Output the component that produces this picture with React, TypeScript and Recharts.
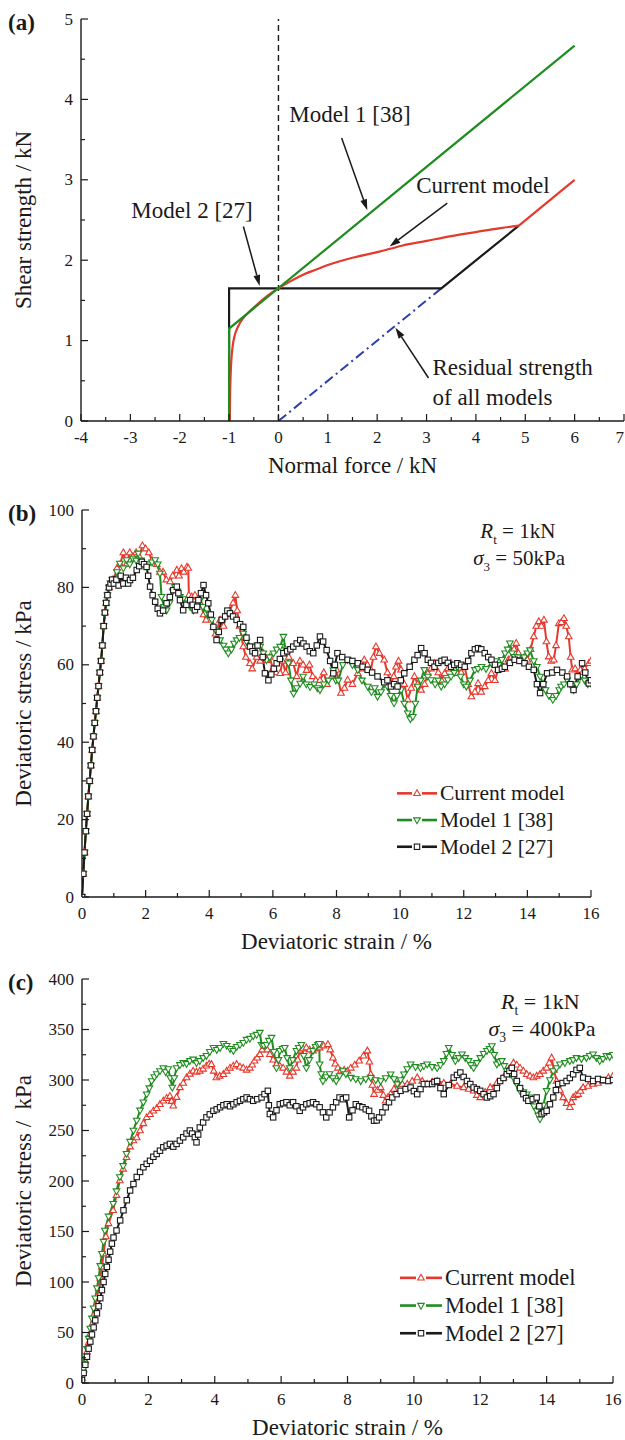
import React from 'react';
import { LineChart, Line, XAxis, YAxis, ReferenceLine, ReferenceDot, Legend, Label } from 'recharts';

const FONT = "'Liberation Serif', 'Times New Roman', Times, serif";
const INK = '#1a1a1a';
const RED = '#e5392d';
const GREEN = '#1f8c1f';
const BLUE = '#2b3fae';

// ---------- (a) shear strength vs normal force ----------
const A_X_TICKS = [-4, -3.5, -3, -2.5, -2, -1.5, -1, -0.5, 0, 0.5, 1, 1.5, 2, 2.5, 3, 3.5, 4, 4.5, 5, 5.5, 6, 6.5, 7];
const A_Y_TICKS = [0, 0.5, 1, 1.5, 2, 2.5, 3, 3.5, 4, 4.5, 5];

const A_MODEL1: [number, number][] = [[-1, 0], [-1, 1.15], [6, 4.67]];
const A_MODEL2: [number, number][] = [[-1, 0], [-1, 1.65], [3.3, 1.65], [4.87, 2.43]];
const A_RESIDUAL: [number, number][] = [[0, 0], [3.3, 1.65]];
const A_CURRENT: [number, number][] = [
  [-0.985, 0], [-0.98, 0.3], [-0.97, 0.55], [-0.955, 0.75], [-0.93, 0.92], [-0.9, 1.03], [-0.85, 1.13],
  [-0.78, 1.22], [-0.7, 1.29], [-0.59, 1.36], [-0.45, 1.44], [-0.3, 1.52], [-0.15, 1.59], [0, 1.65],
  [0.25, 1.74], [0.5, 1.82], [0.75, 1.88], [1, 1.94], [1.5, 2.03], [2, 2.1], [2.5, 2.18], [3, 2.24],
  [3.5, 2.3], [4, 2.35], [4.5, 2.4], [4.87, 2.43],
];
const A_CURRENT_TAIL: [number, number][] = [[4.87, 2.43], [6, 3.0]];

const A_NOTES = [
  { text: 'Model 1 [38]', x: 0.22, y: 3.72 },
  { text: 'Current model', x: 2.79, y: 2.83 },
  { text: 'Model 2 [27]', x: -2.98, y: 2.53 },
  { text: 'Residual strength', x: 3.12, y: 0.567 },
  { text: 'of all models', x: 3.12, y: 0.193 },
];
const A_ARROWS: [number, number, number, number][] = [
  [1.28, 3.52, 1.8, 2.62],
  [3.42, 2.71, 2.25, 2.17],
  [-0.71, 2.42, -0.38, 1.68],
  [3.04, 0.535, 2.37, 1.16],
];

// ---------- (b) sigma3 = 50 kPa ----------
const B_X_TICKS = [0, 1, 2, 3, 4, 5, 6, 7, 8, 9, 10, 11, 12, 13, 14, 15, 16];
const B_Y_TICKS = [0, 10, 20, 30, 40, 50, 60, 70, 80, 90, 100];

const B_RISE: [number, number][] = [
  [0, 0], [0.04, 6], [0.08, 11.5], [0.12, 17], [0.16, 21.5], [0.2, 26], [0.24, 30], [0.28, 34], [0.32, 38],
  [0.36, 41.5], [0.4, 45], [0.44, 48], [0.48, 51.5], [0.52, 54.5], [0.56, 58], [0.6, 61], [0.64, 65],
  [0.68, 70], [0.72, 73.5], [0.76, 76], [0.8, 78], [0.85, 80], [0.9, 81], [0.95, 82],
];
const B_CURRENT: [number, number][] = [
  [1.0, 82], [1.1, 85], [1.2, 86], [1.3, 89], [1.4, 86], [1.5, 89], [1.6, 88], [1.7, 89], [1.8, 88], [1.9, 90.8],
  [2.0, 90], [2.1, 89], [2.2, 87], [2.35, 86], [2.45, 84], [2.55, 84], [2.65, 82], [2.77, 81.5], [2.85, 83],
  [2.98, 84.5], [3.05, 83], [3.13, 84.9], [3.2, 84], [3.3, 85.3], [3.34, 85], [3.36, 78], [3.45, 77.6],
  [3.55, 78], [3.65, 76], [3.75, 75.5], [3.82, 73], [3.9, 71.6], [4.0, 73], [4.13, 69.8], [4.2, 68],
  [4.34, 71.6], [4.45, 70], [4.55, 73], [4.65, 74.1], [4.75, 76], [4.82, 78], [4.88, 74], [4.95, 70],
  [5.07, 64.7], [5.15, 62], [5.28, 60.4], [5.35, 59], [5.49, 62], [5.6, 61], [5.7, 63], [5.8, 61.2],
  [5.9, 62], [6.0, 59], [6.1, 58], [6.23, 57.8], [6.3, 61], [6.4, 58], [6.5, 62], [6.64, 60.4], [6.75, 57],
  [6.85, 61], [6.95, 60], [7.06, 58.6], [7.15, 60], [7.25, 57], [7.35, 56], [7.48, 56], [7.6, 58], [7.7, 55],
  [7.85, 57], [8.0, 58.7], [8.14, 52.7], [8.25, 54], [8.35, 56.1], [8.5, 55], [8.67, 57.8], [8.77, 59],
  [8.87, 61.3], [8.97, 60], [9.08, 58.7], [9.16, 62], [9.24, 64.7], [9.35, 63], [9.5, 61.3], [9.6, 58],
  [9.71, 55.2], [9.8, 57], [9.87, 59.5], [9.95, 61], [10.03, 58.7], [10.13, 55], [10.24, 51], [10.35, 54],
  [10.45, 57], [10.55, 55], [10.66, 53.5], [10.77, 55], [10.87, 57.8], [10.97, 59], [11.08, 60.4], [11.2, 58],
  [11.3, 56], [11.4, 57.8], [11.5, 59], [11.6, 60.4], [11.7, 59], [11.8, 57.8], [11.92, 58], [12.03, 59.5],
  [12.14, 55], [12.24, 51.8], [12.35, 53], [12.45, 55.2], [12.55, 53], [12.66, 54.4], [12.77, 56],
  [12.87, 57.8], [12.98, 56], [13.08, 58.7], [13.2, 60], [13.3, 59], [13.4, 61.3], [13.5, 62], [13.58, 64],
  [13.65, 65.6], [13.72, 63], [13.8, 61.3], [13.9, 62], [14.0, 61.3], [14.1, 64], [14.2, 67.3], [14.28, 70],
  [14.36, 71.2], [14.44, 70], [14.52, 71.6], [14.6, 66], [14.67, 62.1], [14.75, 61], [14.83, 61.3], [14.9, 65],
  [14.99, 70.7], [15.07, 71], [15.15, 72], [15.22, 70], [15.3, 67.3], [15.36, 62], [15.41, 58.7], [15.5, 59],
  [15.6, 57], [15.67, 58.7], [15.8, 59], [15.93, 60.4], [16.0, 61],
];
const B_MODEL1: [number, number][] = [
  [1.0, 82], [1.1, 84], [1.19, 86.2], [1.3, 85], [1.4, 87.1], [1.5, 86], [1.6, 87.5], [1.7, 87], [1.77, 88.8],
  [1.85, 87], [1.95, 86], [2.03, 85.3], [2.1, 86], [2.2, 86.5], [2.3, 87.1], [2.38, 86], [2.45, 83.6],
  [2.5, 77.6], [2.58, 75], [2.66, 74.1], [2.75, 76], [2.85, 79], [2.92, 80.2], [3.0, 79], [3.08, 77.6],
  [3.18, 77], [3.29, 75.9], [3.4, 75], [3.5, 74.1], [3.6, 75.5], [3.71, 76.7], [3.8, 75], [3.9, 73.3],
  [4.0, 73], [4.08, 71.6], [4.2, 69], [4.34, 66.4], [4.45, 65], [4.52, 64], [4.6, 63], [4.7, 64], [4.78, 65.5],
  [4.86, 66.4], [4.95, 67], [5.07, 68.1], [5.17, 66], [5.28, 64.7], [5.4, 63.5], [5.5, 65], [5.6, 64.7],
  [5.7, 63], [5.8, 61.2], [5.9, 62], [6.02, 63], [6.12, 64], [6.23, 64.7], [6.33, 67.3], [6.4, 64],
  [6.49, 60.4], [6.57, 56], [6.65, 52.6], [6.75, 54], [6.86, 55.2], [6.95, 57], [7.05, 55], [7.17, 54.3],
  [7.3, 55], [7.4, 54], [7.48, 53.5], [7.6, 55], [7.75, 56], [7.9, 58.6], [7.98, 56], [8.06, 56], [8.2, 60],
  [8.35, 61.3], [8.5, 60], [8.67, 58.7], [8.8, 56], [8.98, 54.4], [9.1, 53], [9.2, 54], [9.29, 51.8], [9.4, 53],
  [9.5, 55], [9.6, 54.4], [9.7, 52], [9.81, 50.1], [9.9, 52], [10.03, 53.5], [10.13, 50], [10.24, 47.5],
  [10.32, 46], [10.4, 46.6], [10.48, 50], [10.55, 54.4], [10.65, 56], [10.76, 58.7], [10.87, 57], [10.97, 56.1],
  [11.1, 55], [11.2, 56], [11.29, 54.4], [11.4, 55], [11.5, 56.1], [11.6, 57], [11.7, 58], [11.8, 59.5],
  [11.9, 57], [12.0, 55], [12.08, 54.4], [12.2, 56], [12.35, 58.7], [12.45, 59], [12.56, 59.5], [12.7, 59],
  [12.87, 60.4], [13.0, 61], [13.1, 60], [13.2, 61.3], [13.3, 63], [13.38, 64], [13.45, 65.6], [13.52, 63],
  [13.6, 62.1], [13.7, 62], [13.8, 61.3], [13.9, 62], [14.0, 63], [14.08, 63.8], [14.2, 61], [14.3, 59.5],
  [14.4, 57], [14.5, 55], [14.57, 53.5], [14.68, 52], [14.8, 51], [14.9, 52], [15.0, 53.5], [15.06, 54.4],
  [15.15, 55], [15.25, 56.1], [15.35, 55], [15.45, 53.5], [15.55, 55], [15.67, 57], [15.8, 56], [15.9, 55],
  [16.0, 55.2],
];
const B_MODEL2: [number, number][] = [
  [1.0, 81], [1.08, 82], [1.15, 80.5], [1.22, 83], [1.3, 81], [1.38, 82.5], [1.45, 81], [1.51, 81.9],
  [1.6, 82.5], [1.72, 84.5], [1.8, 85.5], [1.88, 86.6], [1.95, 86], [2.03, 85.3], [2.08, 83], [2.14, 80.2],
  [2.22, 78], [2.3, 76.3], [2.38, 74.5], [2.45, 73.3], [2.55, 74], [2.66, 75.9], [2.76, 77.5], [2.87, 79.3],
  [2.98, 80.2], [3.03, 78.5], [3.08, 76.7], [3.18, 74.1], [3.28, 75.5], [3.4, 76.7], [3.48, 75.5], [3.55, 74.1],
  [3.62, 75], [3.66, 76.7], [3.74, 78.5], [3.82, 80.6], [3.9, 78], [3.97, 75.9], [4.05, 73], [4.13, 69.8],
  [4.23, 66.4], [4.3, 68.5], [4.39, 71.6], [4.5, 72.5], [4.57, 74], [4.65, 73.3], [4.75, 72.5], [4.86, 71.6],
  [4.97, 70.5], [5.07, 69.8], [5.17, 67], [5.28, 64.7], [5.36, 63.5], [5.44, 63], [5.52, 65], [5.6, 66.4],
  [5.68, 62], [5.75, 57.8], [5.86, 56], [5.95, 57.5], [6.03, 59], [6.12, 60.4], [6.22, 61.5], [6.33, 63],
  [6.45, 63.5], [6.55, 64], [6.64, 64.7], [6.75, 65.5], [6.86, 66.4], [6.96, 65.5], [7.06, 64.7], [7.16, 63.5],
  [7.27, 63], [7.38, 65], [7.48, 67.3], [7.58, 66], [7.69, 63.8], [7.8, 61], [7.9, 57.8], [7.95, 60], [8.03, 63],
  [8.18, 62], [8.35, 61.3], [8.5, 61], [8.67, 60.4], [8.82, 59.5], [8.98, 58.7], [9.12, 58], [9.29, 57],
  [9.5, 55.5], [9.6, 56], [9.71, 54.4], [9.81, 55], [9.92, 54.4], [10.02, 56], [10.13, 57.8], [10.3, 59.5],
  [10.45, 61.3], [10.55, 62.5], [10.66, 64.3], [10.77, 63], [10.87, 61.3], [10.97, 60.5], [11.08, 59.5],
  [11.2, 60.5], [11.3, 61], [11.4, 61.3], [11.5, 60.5], [11.6, 59.5], [11.7, 60], [11.8, 60.4], [11.92, 60],
  [12.03, 59.5], [12.14, 61], [12.24, 63], [12.35, 64], [12.45, 64.3], [12.55, 64], [12.66, 63], [12.77, 62],
  [12.87, 61.3], [12.98, 60], [13.08, 58.7], [13.2, 59], [13.29, 59.5], [13.45, 60.5], [13.6, 61.3],
  [13.75, 61], [13.91, 60.4], [14.05, 59.5], [14.2, 58.7], [14.3, 55], [14.4, 52.7], [14.5, 55], [14.62, 57.8],
  [14.78, 58], [14.93, 58.7], [15.1, 58], [15.25, 57], [15.35, 55], [15.45, 53.5], [15.58, 57], [15.72, 60.4],
  [15.82, 58], [15.93, 55.2], [16.0, 56],
];

// ---------- (c) sigma3 = 400 kPa ----------
const C_Y_TICKS = [0, 25, 50, 75, 100, 125, 150, 175, 200, 225, 250, 275, 300, 325, 350, 375, 400];

const C_CURRENT: [number, number][] = [
  [0, 5], [0.05, 13], [0.1, 22], [0.15, 31], [0.2, 40], [0.25, 49], [0.3, 58], [0.35, 67], [0.4, 76], [0.45, 85],
  [0.5, 94], [0.55, 104], [0.6, 115], [0.65, 128], [0.72, 145], [0.8, 158], [0.94, 171], [1.04, 186],
  [1.14, 200.5], [1.24, 212], [1.34, 223.5], [1.45, 234], [1.55, 240], [1.65, 243], [1.75, 250], [1.85, 257],
  [1.95, 263], [2.05, 266], [2.15, 269.5], [2.25, 272], [2.35, 276], [2.45, 279.4], [2.55, 282], [2.65, 284],
  [2.7, 279], [2.75, 274.5], [2.85, 283], [2.95, 292.6], [3.05, 297], [3.15, 302.4], [3.25, 306], [3.35, 309],
  [3.45, 308], [3.55, 309], [3.65, 311], [3.75, 314], [3.83, 316], [3.9, 315.6], [3.97, 309], [4.05, 302.4],
  [4.15, 304], [4.26, 305.7], [4.36, 309], [4.46, 312], [4.56, 314], [4.66, 315.6], [4.76, 313], [4.86, 312],
  [4.96, 310], [5.06, 312], [5.13, 315], [5.2, 319], [5.28, 322], [5.36, 325.5], [5.43, 330], [5.5, 333.7],
  [5.58, 330], [5.66, 325.5], [5.76, 320], [5.86, 315.6], [5.96, 314], [6.06, 312], [6.16, 308], [6.26, 304],
  [6.36, 308], [6.46, 312], [6.5, 320], [6.56, 329], [6.66, 331], [6.76, 332], [6.86, 330], [6.96, 329],
  [7.06, 331], [7.16, 332], [7.28, 334], [7.41, 335.3], [7.48, 330], [7.56, 322], [7.63, 316], [7.71, 312],
  [7.8, 309], [7.9, 310], [8.0, 309], [8.1, 312], [8.22, 315], [8.35, 319], [8.48, 324], [8.6, 329],
  [8.66, 318], [8.7, 305.7], [8.75, 295], [8.8, 286], [8.9, 290], [9.0, 292.6], [9.08, 285], [9.15, 279.4],
  [9.22, 283], [9.3, 286], [9.4, 291], [9.5, 296], [9.65, 296], [9.8, 296], [9.95, 299], [10.1, 302.4],
  [10.25, 299], [10.4, 296], [10.55, 298], [10.7, 299], [10.9, 297], [11.1, 296], [11.3, 294], [11.5, 292.6],
  [11.65, 291], [11.8, 289.3], [11.9, 285], [12.0, 282.7], [12.15, 288], [12.3, 292.6], [12.5, 297],
  [12.7, 302.4], [12.85, 310], [13.0, 317], [13.1, 315], [13.2, 312], [13.3, 309], [13.4, 305.7], [13.5, 304],
  [13.6, 302.4], [13.7, 304], [13.8, 305.7], [13.9, 309], [14.0, 312], [14.08, 317], [14.15, 322], [14.22, 310],
  [14.3, 299], [14.4, 290], [14.5, 282.7], [14.6, 277], [14.7, 273], [14.75, 278], [14.8, 282.7], [14.88, 285],
  [14.95, 286], [15.02, 289], [15.1, 292.6], [15.25, 294], [15.4, 296], [15.55, 297], [15.7, 299],
  [15.86, 302.4], [16.0, 304],
];
const C_MODEL1: [number, number][] = [
  [0, 5], [0.05, 14], [0.1, 24], [0.15, 34], [0.2, 44], [0.25, 54], [0.3, 64], [0.35, 74], [0.4, 84], [0.45, 94],
  [0.5, 104], [0.55, 116], [0.6, 128], [0.65, 140], [0.69, 151], [0.8, 165], [0.94, 177.5], [1.04, 190],
  [1.14, 204], [1.24, 215], [1.34, 227], [1.45, 239], [1.55, 250], [1.65, 260], [1.75, 270], [1.85, 278],
  [1.95, 286], [2.03, 292], [2.1, 299], [2.18, 303], [2.25, 306], [2.35, 309], [2.45, 312], [2.52, 308],
  [2.6, 311], [2.66, 302], [2.72, 292.6], [2.78, 302], [2.85, 312], [2.95, 315], [3.05, 317], [3.15, 316],
  [3.25, 319], [3.35, 320.5], [3.45, 317], [3.55, 319], [3.65, 322], [3.75, 324], [3.85, 328], [3.96, 332],
  [4.06, 330], [4.16, 332], [4.26, 336], [4.36, 334], [4.46, 331], [4.56, 329], [4.66, 333], [4.76, 335],
  [4.86, 337], [4.96, 340], [5.06, 341], [5.16, 343.6], [5.26, 345], [5.36, 347], [5.41, 335], [5.48, 334],
  [5.56, 335], [5.63, 339], [5.71, 342], [5.78, 328], [5.86, 312], [5.92, 320], [5.96, 329], [6.04, 331],
  [6.11, 332], [6.18, 322], [6.26, 312], [6.35, 320], [6.46, 329], [6.53, 332], [6.61, 335], [6.68, 324],
  [6.76, 312], [6.85, 320], [6.96, 329], [7.04, 333], [7.11, 335], [7.15, 336], [7.16, 315.6], [7.21, 306],
  [7.26, 299], [7.36, 303], [7.46, 306], [7.56, 302], [7.66, 299], [7.76, 304], [7.86, 309], [7.95, 306],
  [8.1, 302.4], [8.25, 301], [8.4, 299], [8.55, 301], [8.7, 302.4], [8.85, 300], [9.0, 299], [9.15, 302],
  [9.3, 305.7], [9.4, 301], [9.5, 296], [9.6, 300], [9.7, 305.7], [9.8, 311], [9.9, 315.6], [10.05, 313],
  [10.2, 312], [10.3, 314], [10.4, 315.6], [10.55, 313], [10.7, 312], [10.8, 315], [10.9, 319], [10.98, 326],
  [11.05, 332], [11.15, 325], [11.25, 319], [11.35, 322], [11.45, 325.5], [11.55, 322], [11.65, 319],
  [11.72, 315], [11.8, 312], [11.9, 317], [12.0, 322], [12.1, 326], [12.2, 329], [12.28, 331], [12.35, 333.7],
  [12.42, 325], [12.5, 315.6], [12.58, 318], [12.65, 319], [12.72, 314], [12.8, 309], [12.9, 306], [13.0, 302.4],
  [13.1, 296], [13.2, 289.3], [13.3, 288], [13.4, 286], [13.48, 283], [13.55, 279.4], [13.62, 274],
  [13.7, 269.5], [13.75, 265], [13.8, 261.3], [13.9, 275], [14.0, 289.3], [14.1, 300], [14.2, 309], [14.3, 312],
  [14.4, 315.6], [14.55, 317], [14.7, 319], [14.8, 320], [14.9, 322], [15.05, 321], [15.2, 322], [15.3, 324],
  [15.4, 325.5], [15.5, 322], [15.6, 319], [15.7, 321], [15.8, 324], [15.9, 323], [16.0, 325],
];
const C_MODEL2: [number, number][] = [
  [0, 3], [0.05, 10], [0.1, 18], [0.15, 26], [0.2, 34], [0.25, 41], [0.3, 48], [0.35, 55], [0.4, 62], [0.45, 69],
  [0.5, 76], [0.55, 84], [0.6, 92], [0.65, 100], [0.7, 108], [0.75, 115], [0.8, 122], [0.85, 130], [0.9, 138],
  [0.95, 144], [1.04, 151], [1.15, 161], [1.25, 171], [1.35, 181], [1.45, 190.6], [1.55, 197], [1.65, 204],
  [1.75, 209], [1.85, 213.6], [1.95, 217], [2.05, 220], [2.15, 224], [2.25, 226.8], [2.35, 230], [2.45, 233.4],
  [2.55, 235], [2.65, 236.7], [2.75, 234], [2.85, 236.7], [2.95, 240], [3.05, 243.3], [3.15, 247], [3.25, 250],
  [3.32, 247], [3.4, 243.3], [3.45, 238.3], [3.5, 246], [3.55, 253], [3.65, 258], [3.75, 263], [3.85, 266],
  [3.96, 269.5], [4.06, 271], [4.16, 273], [4.26, 275], [4.36, 276], [4.46, 274], [4.56, 276], [4.66, 278],
  [4.76, 279.4], [4.86, 281], [4.96, 282.7], [5.06, 281], [5.16, 279.4], [5.28, 281], [5.41, 282.7], [5.5, 286],
  [5.6, 289.3], [5.63, 275], [5.66, 266.3], [5.76, 263], [5.86, 270], [5.96, 276], [6.06, 277], [6.16, 278],
  [6.26, 275], [6.36, 278], [6.46, 274], [6.56, 269.5], [6.66, 273], [6.76, 276], [6.86, 277], [6.96, 278],
  [7.06, 276], [7.16, 273], [7.26, 268], [7.36, 263], [7.46, 268], [7.56, 273], [7.66, 278], [7.76, 282.7],
  [7.86, 281], [7.96, 282.7], [8.05, 263], [8.15, 270], [8.25, 276], [8.35, 274], [8.45, 273], [8.55, 271],
  [8.65, 269.5], [8.72, 264], [8.8, 259.7], [8.88, 260], [8.95, 263], [9.05, 268], [9.15, 273], [9.25, 278],
  [9.35, 282.7], [9.48, 286], [9.6, 289.3], [9.75, 291], [9.9, 292.6], [10.0, 289], [10.1, 286], [10.2, 291],
  [10.3, 296], [10.42, 296], [10.55, 296], [10.62, 298], [10.7, 299], [10.8, 292], [10.9, 286], [11.05, 295],
  [11.2, 302.4], [11.3, 305], [11.4, 307.4], [11.5, 303], [11.6, 299], [11.7, 296], [11.8, 292.6], [11.9, 291],
  [12.0, 289.3], [12.1, 286], [12.2, 282.7], [12.3, 284], [12.4, 286], [12.5, 292], [12.6, 299], [12.7, 302],
  [12.8, 305.7], [12.88, 309], [12.95, 312], [13.02, 306], [13.1, 299], [13.2, 292], [13.3, 286], [13.38, 282],
  [13.45, 279.4], [13.58, 281], [13.7, 282.7], [13.78, 274], [13.85, 266.3], [13.92, 268], [14.0, 269.5],
  [14.1, 276], [14.2, 282.7], [14.28, 290], [14.35, 296], [14.48, 297], [14.6, 299], [14.7, 302], [14.8, 305.7],
  [14.9, 310], [15.0, 312], [15.1, 302.4], [15.25, 301], [15.4, 299], [15.55, 301], [15.7, 300], [15.86, 299],
  [16.0, 300],
];

const rows = (pairs: [number, number][]) => pairs.map(([x, y]) => ({ x, y }));

// ---------- axis helpers ----------
type Side = 'bottom' | 'top' | 'left' | 'right';
const PAGE_W = 625;
const tickFor = (side: Side, isMajor: (v: number) => boolean, labels: boolean) => (props: any) => {
  const { x, y, payload, index } = props;
  const v = Number(payload.value);
  const major = isMajor(v);
  const len = major ? 7 : 4;
  let mark;
  if (side === 'bottom') mark = <line x1={x} x2={x} y1={y} y2={y - len} />;
  else if (side === 'top') mark = <line x1={x} x2={x} y1={y} y2={y + len} />;
  else if (side === 'left') mark = <line x1={x} x2={x + len} y1={y} y2={y} />;
  else mark = <line x1={x} x2={x - len} y1={y} y2={y} />;
  let label = null;
  if (labels && major) {
    const txt = String(v);
    const halfW = txt.length * 4.3;
    label = side === 'bottom'
      ? <text x={Math.min(x, PAGE_W - halfW - 1)} y={y + 22} textAnchor="middle" stroke="none" fill={INK} fontSize={17} fontFamily={FONT}>{txt}</text>
      : <text x={x - 8} y={y} textAnchor="end" dominantBaseline="central" stroke="none" fill={INK} fontSize={17} fontFamily={FONT}>{txt}</text>;
  }
  return (
    <g key={`t-${side}-${index}`} stroke={INK} strokeWidth={1.2}>
      {mark}
      {label}
    </g>
  );
};

const xTitle = (text: string) => (p: any) => {
  const vb = p.viewBox || {};
  return (
    <text x={vb.x + vb.width / 2} y={vb.y + 52} textAnchor="middle" fontFamily={FONT} fontSize={23} fill={INK}>
      {text}
    </text>
  );
};
const yTitle = (text: string, panel: string) => (p: any) => {
  const vb = p.viewBox || {};
  const cy = vb.y + vb.height / 2;
  return (
    <g fontFamily={FONT} fill={INK}>
      <text transform={`translate(23 ${cy}) rotate(-90)`} textAnchor="middle" dominantBaseline="central" fontSize={23} style={{ whiteSpace: 'pre' }}>
        {text}
      </text>
      <text x={8} y={vb.y + 11} fontSize={23} fontWeight="bold">{panel}</text>
    </g>
  );
};

const axisLine = { stroke: INK, strokeWidth: 1.4 };
const isInt = (v: number) => Math.abs(v - Math.round(v)) < 1e-9;
const isMult = (m: number) => (v: number) => Math.abs(v / m - Math.round(v / m)) < 1e-9;

function frame(o: {
  xDomain: [number, number]; yDomain: [number, number]; xTicks: number[]; yTicks: number[];
  xMajor: (v: number) => boolean; yMajor: (v: number) => boolean; yWidth: number; xHeight: number;
  xText: string; yText: string; panel: string;
}) {
  return [
    <XAxis key="xb" type="number" dataKey="x" domain={o.xDomain} ticks={o.xTicks} interval={0} height={o.xHeight}
      tickSize={0} tickMargin={0} axisLine={axisLine} tickLine={false} tick={tickFor('bottom', o.xMajor, true)} allowDataOverflow>
      <Label content={xTitle(o.xText)} />
    </XAxis>,
    <XAxis key="xt" xAxisId="top" orientation="top" type="number" dataKey="x" domain={o.xDomain} ticks={o.xTicks} interval={0}
      height={0} tickSize={0} tickMargin={0} axisLine={axisLine} tickLine={false} tick={tickFor('top', o.xMajor, false)} allowDataOverflow />,
    <YAxis key="yl" type="number" domain={o.yDomain} ticks={o.yTicks} interval={0} width={o.yWidth}
      tickSize={0} tickMargin={0} axisLine={axisLine} tickLine={false} tick={tickFor('left', o.yMajor, true)} allowDataOverflow>
      <Label content={yTitle(o.yText, o.panel)} />
    </YAxis>,
    <YAxis key="yr" yAxisId="right" orientation="right" type="number" domain={o.yDomain} ticks={o.yTicks} interval={0} width={0}
      tickSize={0} tickMargin={0} axisLine={axisLine} tickLine={false} tick={tickFor('right', o.yMajor, false)} allowDataOverflow />,
  ];
}

// ---------- markers ----------
const upTri = (color: string) => (p: any) => {
  const { cx, cy, index } = p;
  if (cx == null || cy == null) return <g key={`u-${index}`} />;
  return <polygon key={`u-${index}`} points={`${cx},${cy - 3.6} ${cx - 3.3},${cy + 2.2} ${cx + 3.3},${cy + 2.2}`} fill="#fff" stroke={color} strokeWidth={1.1} />;
};
const downTri = (color: string) => (p: any) => {
  const { cx, cy, index } = p;
  if (cx == null || cy == null) return <g key={`d-${index}`} />;
  return <polygon key={`d-${index}`} points={`${cx},${cy + 3.6} ${cx - 3.3},${cy - 2.2} ${cx + 3.3},${cy - 2.2}`} fill="#fff" stroke={color} strokeWidth={1.1} />;
};
const square = (color: string) => (p: any) => {
  const { cx, cy, index } = p;
  if (cx == null || cy == null) return <g key={`s-${index}`} />;
  return <rect key={`s-${index}`} x={cx - 2.7} y={cy - 2.7} width={5.4} height={5.4} fill="#fff" stroke={color} strokeWidth={1.1} />;
};
const MARKERS: Record<string, (p: any) => React.ReactElement> = {
  'Current model': upTri(RED),
  'Model 1 [38]': downTri(GREEN),
  'Model 2 [27]': square(INK),
};

const legendContent = (fontSize: number, rowH: number, lineLen: number) => (props: any) => {
  const items = ['Current model', 'Model 1 [38]', 'Model 2 [27]'];
  const colors: Record<string, string> = {};
  (props.payload || []).forEach((p: any) => { colors[p.value] = p.color; });
  const fallback: Record<string, string> = { 'Current model': RED, 'Model 1 [38]': GREEN, 'Model 2 [27]': INK };
  const mid = lineLen / 2;
  return (
    <svg width={220} height={rowH * 3 + 4} style={{ display: 'block', overflow: 'visible' }}>
      {items.map((name, i) => {
        const cy = rowH / 2 + i * rowH;
        const c = colors[name] || fallback[name];
        return (
          <g key={name}>
            <line x1={0} x2={mid - 5} y1={cy} y2={cy} stroke={c} strokeWidth={2.6} />
            <line x1={mid + 5} x2={lineLen} y1={cy} y2={cy} stroke={c} strokeWidth={2.6} />
            {MARKERS[name]({ cx: mid, cy, index: i })}
            <text x={lineLen + 3} y={cy} dominantBaseline="central" fontFamily={FONT} fontSize={fontSize} fill={INK}>{name}</text>
          </g>
        );
      })}
    </svg>
  );
};

const condition = (sym: string, sub: string, rest: string, fontSize: number) => (p: any) => (
  <text x={p.cx} y={p.cy} textAnchor="middle" fontFamily={FONT} fontSize={fontSize} fill={INK}>
    <tspan fontStyle="italic">{sym}</tspan>
    <tspan fontSize={fontSize * 0.62} dy={6}>{sub}</tspan>
    <tspan dy={-6}>{rest}</tspan>
  </text>
);

const Arrow = (p: any) => {
  const { x1, y1, x2, y2 } = p;
  const ang = Math.atan2(y2 - y1, x2 - x1);
  const L = 11;
  const W = 3.4;
  const bx = x2 - L * Math.cos(ang);
  const by = y2 - L * Math.sin(ang);
  const pts = `${x2},${y2} ${bx + W * Math.sin(ang)},${by - W * Math.cos(ang)} ${bx - W * Math.sin(ang)},${by + W * Math.cos(ang)}`;
  return (
    <g>
      <line x1={x1} y1={y1} x2={bx} y2={by} stroke={INK} strokeWidth={1.5} />
      <polygon points={pts} fill={INK} />
    </g>
  );
};

// ---------- panels ----------
const PanelA = () => (
  <LineChart width={625} height={480} margin={{ top: 19, right: 1, bottom: 0, left: 0 }}>
    {frame({
      xDomain: [-4, 7], yDomain: [0, 5], xTicks: A_X_TICKS, yTicks: A_Y_TICKS, xMajor: isInt, yMajor: isInt,
      yWidth: 81, xHeight: 59, xText: 'Normal force / kN', yText: 'Shear strength / kN', panel: '(a)',
    })}
    <ReferenceLine x={0} stroke={INK} strokeWidth={1.4} strokeDasharray="6 4" />
    <Line data={rows(A_RESIDUAL)} dataKey="y" stroke={BLUE} strokeWidth={2} strokeDasharray="10 4 2 4" dot={false} activeDot={false} isAnimationActive={false} />
    <Line data={rows(A_MODEL2)} dataKey="y" stroke={INK} strokeWidth={2.2} dot={false} activeDot={false} isAnimationActive={false} />
    <Line type="monotone" data={rows(A_CURRENT)} dataKey="y" stroke={RED} strokeWidth={2.2} dot={false} activeDot={false} isAnimationActive={false} />
    <Line data={rows(A_CURRENT_TAIL)} dataKey="y" stroke={RED} strokeWidth={2.2} dot={false} activeDot={false} isAnimationActive={false} />
    <Line data={rows(A_MODEL1)} dataKey="y" stroke={GREEN} strokeWidth={2.2} dot={false} activeDot={false} isAnimationActive={false} />
    {A_ARROWS.map(([ax1, ay1, ax2, ay2], i) => (
      <ReferenceLine key={`ar-${i}`} segment={[{ x: ax1, y: ay1 }, { x: ax2, y: ay2 }]} ifOverflow="visible" shape={Arrow} />
    ))}
    {A_NOTES.map((n) => (
      <ReferenceDot key={n.text} x={n.x} y={n.y} r={0} ifOverflow="visible"
        shape={(p: any) => <text x={p.cx} y={p.cy} fontFamily={FONT} fontSize={23} fill={INK}>{n.text}</text>} />
    ))}
  </LineChart>
);

const PanelB = () => (
  <LineChart width={625} height={480} margin={{ top: 30, right: 34, bottom: 0, left: 0 }}>
    {frame({
      xDomain: [0, 16], yDomain: [0, 100], xTicks: B_X_TICKS, yTicks: B_Y_TICKS, xMajor: isMult(2), yMajor: isMult(20),
      yWidth: 82, xHeight: 63, xText: 'Deviatoric strain / %', yText: 'Deviatoric stress / kPa', panel: '(b)',
    })}
    <Line name="Current model" data={rows([...B_RISE, ...B_CURRENT])} dataKey="y" stroke={RED} strokeWidth={2} dot={upTri(RED)} activeDot={false} isAnimationActive={false} />
    <Line name="Model 1 [38]" data={rows([...B_RISE, ...B_MODEL1])} dataKey="y" stroke={GREEN} strokeWidth={2} dot={downTri(GREEN)} activeDot={false} isAnimationActive={false} />
    <Line name="Model 2 [27]" data={rows([...B_RISE, ...B_MODEL2])} dataKey="y" stroke={INK} strokeWidth={2} dot={square(INK)} activeDot={false} isAnimationActive={false} />
    <ReferenceDot x={13.7} y={92.8} r={0} ifOverflow="visible" shape={condition('R', 't', ' = 1kN', 21)} />
    <ReferenceDot x={13.74} y={85.8} r={0} ifOverflow="visible" shape={condition('σ', '3', ' = 50kPa', 21)} />
    <Legend layout="vertical" align="center" verticalAlign="middle" content={legendContent(21.5, 26.7, 40)}
      wrapperStyle={{ left: 397, top: 300, width: 220, height: 84 }} />
  </LineChart>
);

const PanelC = () => (
  <LineChart width={625} height={480} margin={{ top: 19, right: 12, bottom: 0, left: 0 }}>
    {frame({
      xDomain: [0, 16], yDomain: [0, 400], xTicks: B_X_TICKS, yTicks: C_Y_TICKS, xMajor: isMult(2), yMajor: isMult(50),
      yWidth: 82, xHeight: 57, xText: 'Deviatoric strain / %', yText: 'Deviatoric stress /  kPa', panel: '(c)',
    })}
    <Line name="Current model" data={rows(C_CURRENT)} dataKey="y" stroke={RED} strokeWidth={2} dot={upTri(RED)} activeDot={false} isAnimationActive={false} />
    <Line name="Model 1 [38]" data={rows(C_MODEL1)} dataKey="y" stroke={GREEN} strokeWidth={2} dot={downTri(GREEN)} activeDot={false} isAnimationActive={false} />
    <Line name="Model 2 [27]" data={rows(C_MODEL2)} dataKey="y" stroke={INK} strokeWidth={2} dot={square(INK)} activeDot={false} isAnimationActive={false} />
    <ReferenceDot x={13.81} y={370} r={0} ifOverflow="visible" shape={condition('R', 't', ' = 1kN', 22)} />
    <ReferenceDot x={13.86} y={343.5} r={0} ifOverflow="visible" shape={condition('σ', '3', ' = 400kPa', 22)} />
    <Legend layout="vertical" align="center" verticalAlign="middle" content={legendContent(22.5, 27.7, 42)}
      wrapperStyle={{ left: 400, top: 304, width: 220, height: 87 }} />
  </LineChart>
);

export default function App() {
  return (
    <div style={{ position: 'absolute', left: 0, top: 0, width: 625, height: 1440, background: '#fff' }}>
      <div style={{ position: 'absolute', left: 0, top: 0 }}><PanelA /></div>
      <div style={{ position: 'absolute', left: 0, top: 480 }}><PanelB /></div>
      <div style={{ position: 'absolute', left: 0, top: 960 }}><PanelC /></div>
    </div>
  );
}
